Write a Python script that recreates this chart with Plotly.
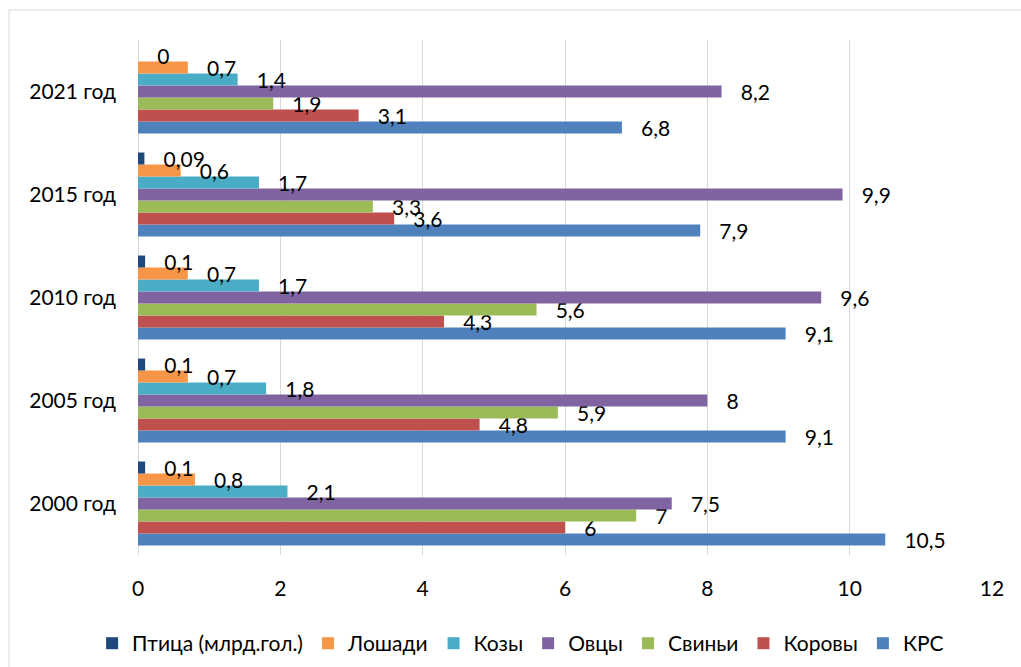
import plotly.graph_objects as go

categories = ["2000 год", "2005 год", "2010 год", "2015 год", "2021 год"]

series_names = ["КРС", "Коровы", "Свиньи", "Овцы", "Козы", "Лошади", "Птица (млрд.гол.)"]
krs = [10.5, 9.1, 9.1, 7.9, 6.8]
korovy = [6, 4.8, 4.3, 3.6, 3.1]
svinyi = [7, 5.9, 5.6, 3.3, 1.9]
ovtsy = [7.5, 8, 9.6, 9.9, 8.2]
kozy = [2.1, 1.8, 1.7, 1.7, 1.4]
loshadi = [0.8, 0.7, 0.7, 0.6, 0.7]
ptitsa = [0.1, 0.1, 0.1, 0.09, 0]

series_values = [krs, korovy, svinyi, ovtsy, kozy, loshadi, ptitsa]
colors = ["#4F81BD", "#C0504D", "#9BBB59", "#8064A2", "#4BACC6", "#F79646", "#1F497D"]

x_ticks = [0, 2, 4, 6, 8, 10, 12]

FONT = "Lato, 'Noto Sans', sans-serif"
FS = 21


def fmt(v):
    return "\u00a0\u00a0\u00a0" + f"{v:g}".replace(".", ",")


fig = go.Figure()
for name, vals, col in zip(series_names, series_values, colors):
    fig.add_trace(go.Bar(
        y=categories, x=vals, name=name, orientation="h",
        marker=dict(color=col, line=dict(width=0)),
        text=[fmt(v) for v in vals], textposition="outside",
        textfont=dict(family=FONT, size=FS, color="#000000"),
        constraintext="none", cliponaxis=False,
    ))

fig.update_layout(
    width=1021, height=667,
    margin=dict(l=138, r=29, t=40, b=112, autoexpand=False),
    paper_bgcolor="white", plot_bgcolor="white",
    barmode="group", bargap=0.185, bargroupgap=0,
    font=dict(family=FONT, size=FS, color="#000000"),
    showlegend=True,
    legend=dict(orientation="h", traceorder="reversed", x=0.448, xanchor="center",
                y=-0.172, yanchor="middle", font=dict(size=FS),
                itemclick=False),
    xaxis=dict(range=[0, 12], tickvals=x_ticks, showgrid=True, gridcolor="#D9D9D9",
               gridwidth=1, zeroline=True, zerolinecolor="#D9D9D9", zerolinewidth=1,
               showline=False, ticks="", ticklabelstandoff=19,
               tickfont=dict(size=FS)),
    yaxis=dict(type="category", categoryorder="array", categoryarray=categories,
               showgrid=False, zeroline=False, showline=False, ticks="",
               ticklabelstandoff=21, tickfont=dict(size=FS)),
    shapes=[dict(type="rect", xref="paper", yref="paper",
                 x0=-0.151, x1=1.2, y0=-0.4, y1=1.0583,
                 line=dict(color="#D9D9D9", width=1), fillcolor="rgba(0,0,0,0)",
                 layer="below")],
)

fig.write_html("out.html", config={"displayModeBar": False},
               post_script="document.body.style.margin='0';")
